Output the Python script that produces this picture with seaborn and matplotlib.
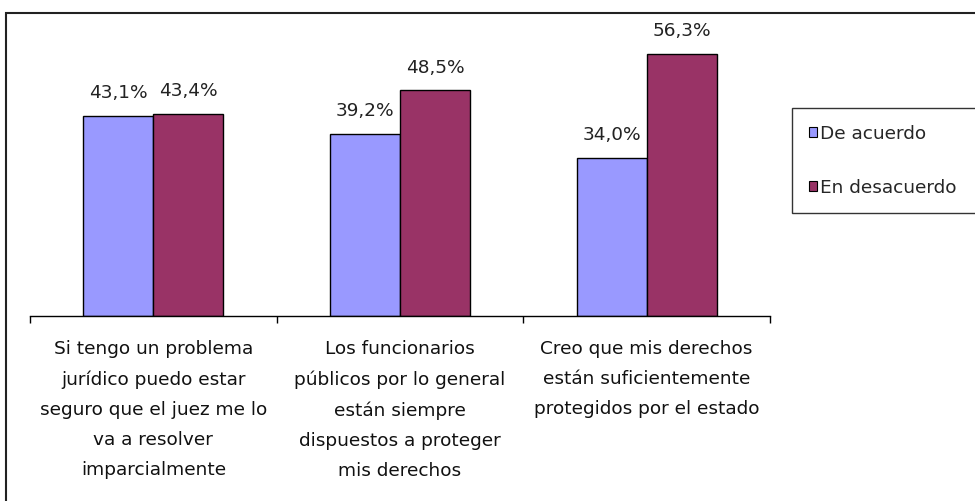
import pandas as pd
import seaborn as sns
import matplotlib.pyplot as plt
from matplotlib.patches import Rectangle

# Data
categories = [
    "Si tengo un problema\njurídico puedo estar\nseguro que el juez me lo\nva a resolver\nimparcialmente",
    "Los funcionarios\npúblicos por lo general\nestán siempre\ndispuestos a proteger\nmis derechos",
    "Creo que mis derechos\nestán suficientemente\nprotegidos por el estado",
]
de_acuerdo = [43.1, 39.2, 34.0]
en_desacuerdo = [43.4, 48.5, 56.3]
series = ["De acuerdo", "En desacuerdo"]
colors = ["#9999FF", "#993366"]

df = pd.DataFrame({
    "Categoria": categories * 2,
    "Valor": de_acuerdo + en_desacuerdo,
    "Serie": [series[0]] * 3 + [series[1]] * 3,
})

sns.set_style("white")
plt.rcParams["font.family"] = ["DejaVu Sans"]

W, H = 975, 501
FS = 13.3
fig = plt.figure(figsize=(W / 100, H / 100), dpi=100)
ax = fig.add_axes([30 / W, (H - 316) / H, 740 / W, 279 / H])

sns.barplot(data=df, x="Categoria", y="Valor", hue="Serie", order=categories,
            hue_order=series, palette=colors, width=0.567, gap=0,
            edgecolor="black", linewidth=1, saturation=1, ax=ax, legend=False)

ax.set_xlim(-0.5, 2.5)
ax.set_ylim(0, 60)

# value labels
for cont in ax.containers:
    ax.bar_label(cont, labels=[f"{v:.1f}%".replace(".", ",") for v in cont.datavalues],
                 padding=10, fontsize=FS, color="#222222")

for s in ["left", "top", "right"]:
    ax.spines[s].set_visible(False)
ax.spines["bottom"].set_color("black")
ax.spines["bottom"].set_linewidth(1)
ax.set_yticks([])
ax.set_xlabel("")
ax.set_ylabel("")

ax.set_xticks(range(3))
ax.set_xticklabels(categories, fontsize=FS, linespacing=1.86, va="top",
                   color="#111111")
ax.set_xticks([-0.5, 0.5, 1.5, 2.5], minor=True)
ax.tick_params(axis="x", which="minor", bottom=True, length=5, width=1,
               color="black", direction="out")
ax.tick_params(axis="x", which="major", bottom=True, length=0, pad=17)
for lbl in ax.get_xticklabels():
    lbl.set_ha("center")
    lbl.set_multialignment("center")

# legend (box runs past the right edge, as in the original)
handles = [Rectangle((0, 0), 1, 1, facecolor=c, edgecolor="black", linewidth=0.8)
           for c in colors]
leg = fig.legend(handles, series, loc="upper left", mode="expand",
                 bbox_to_anchor=(792 / W, 1 - 218 / H, 210 / W, 110 / H),
                 frameon=True, fontsize=FS, handlelength=0.45, handleheight=0.45,
                 handletextpad=0.15, labelspacing=1.95, borderpad=0.9,
                 borderaxespad=0, fancybox=False)
leg.get_frame().set_edgecolor("black")
leg.get_frame().set_linewidth(1)

# outer chart frame (left and top edges visible)
fig.patches.append(Rectangle((6 / W, -0.2), 1.2, 1.2 - 13 / H,
                             transform=fig.transFigure, fill=False,
                             edgecolor="#222222", linewidth=1.5))

fig.savefig("out.png", dpi=100)
